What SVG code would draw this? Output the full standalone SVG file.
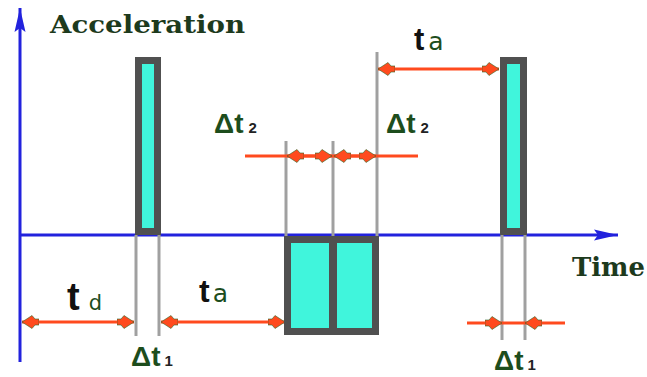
<svg xmlns="http://www.w3.org/2000/svg" width="647" height="377" viewBox="0 0 647 377">
<defs>
<style>
.ax{stroke:#2222dd;stroke-width:3;fill:none}
.gl{stroke:#a0a0a0;stroke-width:3}
.pulse{fill:#40f5dc;stroke:#505050;stroke-width:7}
.ar{stroke:#ff4a1e;stroke-width:3;fill:none}
.arm{stroke:#ff4a1e;stroke-width:3;fill:none;marker-start:url(#rh);marker-end:url(#rh)}
.lbl{font-family:"DejaVu Serif","Liberation Serif",serif;font-weight:bold;fill:#1d3a1d}
.big{font-family:"Liberation Sans",Arial,sans-serif;font-weight:bold;fill:#111}
.sub{font-family:"DejaVu Sans","Liberation Sans",sans-serif;fill:#1d4d1d}
.dl{font-family:"Liberation Sans",Arial,sans-serif;font-weight:bold;font-size:28px;fill:#1d4d1d}
.n{font-family:"Liberation Sans",Arial,sans-serif;font-weight:bold;font-size:15px;fill:#222}
</style>
<marker id="rh" viewBox="-17 -7 18 14" refX="0" refY="0" markerWidth="18" markerHeight="14" markerUnits="userSpaceOnUse" orient="auto-start-reverse">
<polygon points="0,0 -10,-6.5 -13,-3 -17,-3 -17,3 -13,3 -10,6.5" fill="#ff4a1e" stroke="#2d6a2d" stroke-width="0.6"/>
</marker>
<marker id="bh" viewBox="-25 -6 26 12" refX="0" refY="0" markerWidth="26" markerHeight="12" markerUnits="userSpaceOnUse" orient="auto">
<polygon points="0,0 -24,-5.5 -20,0 -24,5.5" fill="#2222dd"/>
</marker>
</defs>

<g id="connectors">
<line id="y-axis" class="ax" x1="20" y1="362" x2="20" y2="8" marker-end="url(#bh)"/>
<line id="x-axis" class="ax" x1="20" y1="235" x2="618" y2="235" marker-end="url(#bh)"/>
<g id="guides">
<line class="gl" x1="136" y1="235" x2="136" y2="336"/>
<line class="gl" x1="159" y1="235" x2="159" y2="336"/>
<line class="gl" x1="286" y1="141" x2="286" y2="236"/>
<line class="gl" x1="333" y1="141" x2="333" y2="236"/>
<line class="gl" x1="377" y1="52" x2="377" y2="236"/>
<line class="gl" x1="502" y1="235" x2="502" y2="340"/>
<line class="gl" x1="525" y1="235" x2="525" y2="340"/>
</g>
<line id="td-arrow" class="arm" x1="22" y1="322" x2="134" y2="322"/>
<line id="ta-bottom-arrow" class="arm" x1="161" y1="322" x2="285" y2="322"/>
<line class="ar" x1="245" y1="156" x2="418" y2="156"/>
<line id="dt2-left-arrow" class="arm" x1="287" y1="156" x2="332" y2="156"/>
<line id="dt2-right-arrow" class="arm" x1="334" y1="156" x2="376" y2="156"/>
<line id="ta-top-arrow" class="arm" x1="378" y1="69" x2="499" y2="69"/>
<line class="ar" x1="467" y1="323" x2="502" y2="323" marker-end="url(#rh)"/>
<line class="ar" x1="565" y1="323" x2="525" y2="323" marker-end="url(#rh)"/>
<line class="ar" x1="502" y1="323" x2="525" y2="323"/>
</g>

<g id="pulse-1"><rect class="pulse" x="138.5" y="60.5" width="19" height="171"/></g>
<g id="pulse-2"><rect class="pulse" x="287.5" y="239.5" width="88" height="92"/><line x1="333" y1="236" x2="333" y2="335" stroke="#505050" stroke-width="8"/></g>
<g id="pulse-3"><rect class="pulse" x="503.5" y="60.5" width="20" height="171"/></g>

<g id="labels">
<text class="lbl" x="50" y="33" font-size="25" textLength="195" lengthAdjust="spacingAndGlyphs">Acceleration</text>
<text class="lbl" x="572" y="276" font-size="26" textLength="73" lengthAdjust="spacingAndGlyphs">Time</text>
<text x="67" y="310"><tspan class="big" font-size="38">t</tspan><tspan class="sub" dx="9" font-size="21">d</tspan></text>
<text x="199" y="302"><tspan class="big" font-size="32">t</tspan><tspan class="sub" dx="3" font-size="25">a</tspan></text>
<text x="414" y="50"><tspan class="big" font-size="31">t</tspan><tspan class="sub" dx="4" font-size="25">a</tspan></text>
<text x="214" y="133"><tspan class="dl">Δt</tspan><tspan class="n" dx="5">2</tspan></text>
<text x="386" y="133"><tspan class="dl">Δt</tspan><tspan class="n" dx="5">2</tspan></text>
<text x="131" y="366"><tspan class="dl">Δt</tspan><tspan class="n" dx="4" font-weight="normal">1</tspan></text>
<text x="494" y="370"><tspan class="dl">Δt</tspan><tspan class="n" dx="4" font-weight="normal">1</tspan></text>
</g>
</svg>
